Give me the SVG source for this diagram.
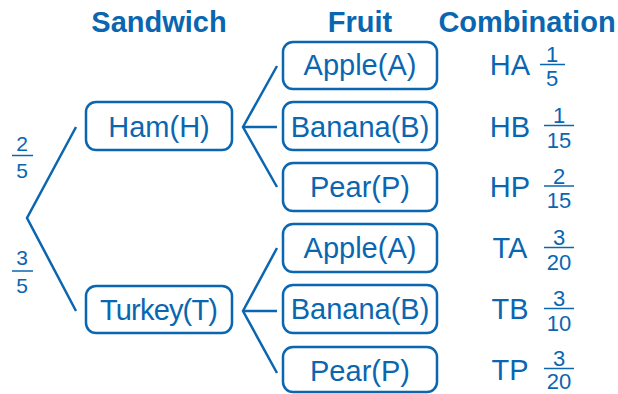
<svg xmlns="http://www.w3.org/2000/svg" width="618" height="394" viewBox="0 0 618 394">
<style>
text{font-family:"Liberation Sans",Arial,sans-serif;fill:#0a66b0}
.h{font-size:29px;font-weight:bold;text-anchor:middle}
.t{font-size:29px;text-anchor:middle}
.f{font-size:22px;text-anchor:middle}
.fl{font-size:21px;text-anchor:middle}
.box{fill:#fff;stroke:#0a66b0;stroke-width:2.5}
.ln{stroke:#0a66b0;stroke-width:2.5;fill:none}
.bar{stroke:#0a66b0;stroke-width:1.5}
</style>
<g id="headers">
<text class="h" x="159" y="32">Sandwich</text>
<text class="h" x="360" y="32">Fruit</text>
<text class="h" x="527" y="32">Combination</text>
</g>
<g id="connectors">
<polyline class="ln" points="76,127 27,218 76,311"/>
<polyline class="ln" points="277,66 243,127 277,187"/>
<line class="ln" x1="243" y1="127" x2="277" y2="127"/>
<polyline class="ln" points="277,248 243,311 277,373"/>
<line class="ln" x1="243" y1="311" x2="277" y2="311"/>
<g id="p-ham"><text class="fl" x="22" y="151">2</text><line class="bar" x1="12" y1="155.5" x2="33" y2="155.5"/><text class="fl" x="22" y="178">5</text></g>
<g id="p-turkey"><text class="fl" x="22" y="265">3</text><line class="bar" x1="12" y1="271" x2="33" y2="271"/><text class="fl" x="22" y="293">5</text></g>
</g>
<g id="ham"><rect class="box" x="86" y="102" width="146" height="48" rx="10"/><text class="t" x="159" y="137">Ham(H)</text></g>
<g id="turkey"><rect class="box" x="86" y="286" width="146" height="47" rx="10"/><text class="t" x="159" y="320" textLength="118" lengthAdjust="spacing">Turkey(T)</text></g>
<g id="ham-apple"><rect class="box" x="283" y="42" width="154" height="47" rx="10"/><text class="t" x="360" y="75">Apple(A)</text></g>
<g id="ham-banana"><rect class="box" x="283" y="102" width="154" height="48" rx="10"/><text class="t" x="360" y="137">Banana(B)</text></g>
<g id="ham-pear"><rect class="box" x="283" y="163" width="154" height="48" rx="10"/><text class="t" x="360" y="197">Pear(P)</text></g>
<g id="turkey-apple"><rect class="box" x="283" y="224" width="154" height="48" rx="10"/><text class="t" x="360" y="258">Apple(A)</text></g>
<g id="turkey-banana"><rect class="box" x="283" y="285" width="154" height="48" rx="10"/><text class="t" x="360" y="319">Banana(B)</text></g>
<g id="turkey-pear"><rect class="box" x="283" y="347" width="154" height="45" rx="10"/><text class="t" x="360" y="381">Pear(P)</text></g>
<g id="combos">
<g id="c-ha"><text class="t" x="510" y="75">HA</text><text class="f" x="552" y="62">1</text><line class="bar" x1="540" y1="64.5" x2="565" y2="64.5"/><text class="f" x="552" y="86">5</text></g>
<g id="c-hb"><text class="t" x="510" y="137">HB</text><text class="f" x="559" y="123">1</text><line class="bar" x1="544" y1="125.5" x2="574" y2="125.5"/><text class="f" x="559" y="148">15</text></g>
<g id="c-hp"><text class="t" x="510" y="197">HP</text><text class="f" x="559" y="184">2</text><line class="bar" x1="544" y1="186" x2="574" y2="186"/><text class="f" x="559" y="208">15</text></g>
<g id="c-ta"><text class="t" x="510" y="258">TA</text><text class="f" x="559" y="245">3</text><line class="bar" x1="544" y1="247.5" x2="574" y2="247.5"/><text class="f" x="559" y="270">20</text></g>
<g id="c-tb"><text class="t" x="510" y="319">TB</text><text class="f" x="559" y="306">3</text><line class="bar" x1="544" y1="308.5" x2="574" y2="308.5"/><text class="f" x="559" y="331">10</text></g>
<g id="c-tp"><text class="t" x="510" y="380">TP</text><text class="f" x="559" y="366">3</text><line class="bar" x1="544" y1="368.5" x2="574" y2="368.5"/><text class="f" x="559" y="389">20</text></g>
</g>
</svg>
